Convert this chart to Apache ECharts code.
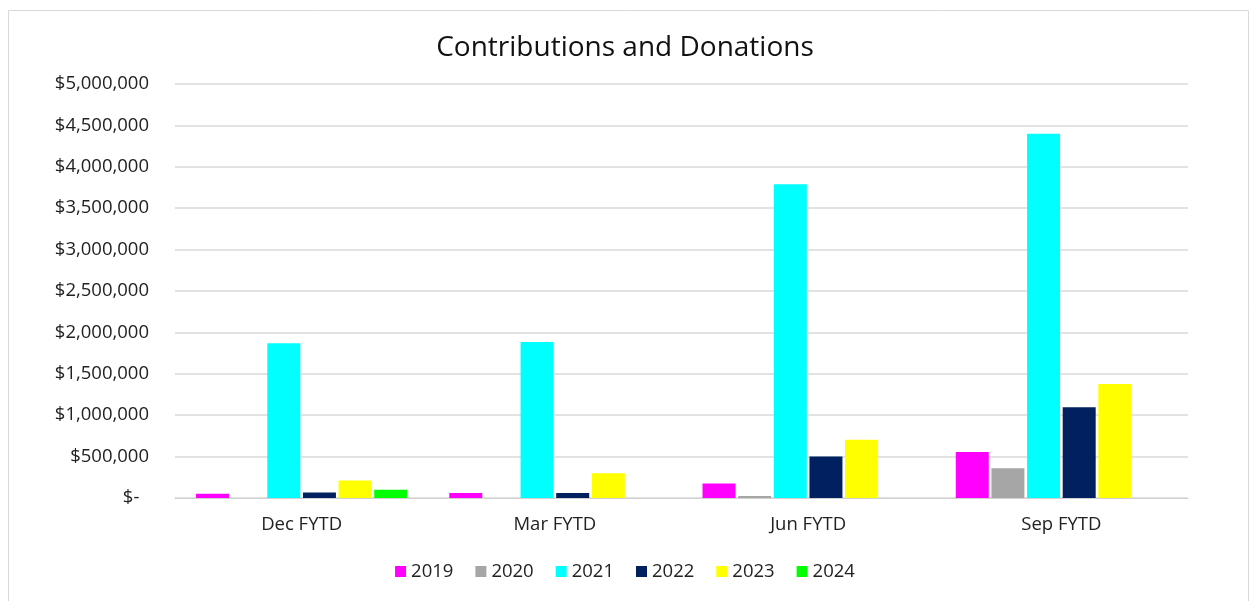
<!DOCTYPE html>
<html><head><meta charset="utf-8">
<script src="https://cdn.jsdelivr.net/npm/echarts@6/dist/echarts.min.js"></script>
<style>html,body{margin:0;padding:0;background:#fff}#c{width:1250px;height:601px}</style>
</head><body><div id="c"></div>
<script>
const categories = ['Dec FYTD', 'Mar FYTD', 'Jun FYTD', 'Sep FYTD'];
const years = ['2019', '2020', '2021', '2022', '2023', '2024'];
const s2019 = [50000, 60000, 175000, 555000];
const s2020 = [0, 0, 25000, 360000];
const s2021 = [1870000, 1885000, 3790000, 4400000];
const s2022 = [65000, 60000, 500000, 1095000];
const s2023 = [210000, 300000, 705000, 1377000];
const s2024 = [100000, 0, 0, 0];
const colors = ['#FF00FF', '#A6A6A6', '#00FFFF', '#002060', '#FFFF00', '#00FF00'];
const seriesData = [s2019, s2020, s2021, s2022, s2023, s2024];

const font = '"Open Sans", "Liberation Sans", sans-serif';
const chart = echarts.init(document.getElementById('c'));
chart.setOption({
  animation: false,
  backgroundColor: '#fff',
  graphic: [{type: 'rect', shape: {x: 8.5, y: 10.5, width: 1240, height: 600}, style: {fill: 'none', stroke: '#d9d9d9', lineWidth: 1}}],
  title: {text: 'Contributions and Donations', left: 'center', top: 29,
    textStyle: {fontFamily: font, fontSize: 28, fontWeight: 'normal', color: '#111'}},
  legend: {data: years, bottom: 15, left: 'center', itemWidth: 11, itemHeight: 11, itemGap: 22,
    icon: 'rect', textStyle: {fontFamily: font, fontSize: 18.5, color: '#222'}},
  grid: {left: 175, right: 62, top: 84, bottom: 103},
  xAxis: {type: 'category', data: categories,
    axisLine: {lineStyle: {color: '#d0d0d0'}}, axisTick: {show: false},
    axisLabel: {fontFamily: font, fontSize: 18.5, color: '#222', margin: 17}},
  yAxis: {type: 'value', min: 0, max: 5000000, interval: 500000,
    axisLine: {show: false}, axisTick: {show: false},
    splitLine: {lineStyle: {color: '#d9d9d9', width: 1.5}},
    axisLabel: {fontFamily: font, fontSize: 18.5, color: '#222', margin: 26,
      formatter: v => v === 0 ? '$-  ' : '$' + v.toLocaleString('en-US')}},
  series: years.map((y, i) => ({
    name: y, type: 'bar', data: seriesData[i], barWidth: 33, barGap: '8%',
    itemStyle: {color: colors[i]}
  }))
});
</script></body></html>
